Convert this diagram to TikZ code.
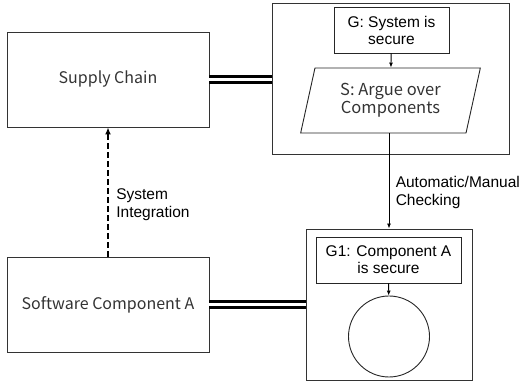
\documentclass[tikz,border=0pt]{standalone}
\usepackage{fontspec}
\setmainfont{Liberation Sans}
\newfontfamily\krfont{Noto Sans CJK KR}
\usetikzlibrary{calc,positioning,arrows.meta,shapes.geometric}

\begin{document}
\begin{tikzpicture}[x=1pt,y=-1pt,
    box/.style={rectangle,draw=black!80,line width=0.9pt,font=\krfont\fontsize{16}{18}\selectfont,text=black!80},
    frame/.style={rectangle,draw=black!80,line width=0.9pt},
    goalbox/.style={rectangle,draw=black!85,line width=0.9pt,align=center,font=\fontsize{15.5}{17}\selectfont,inner sep=1pt},
    link/.style={draw=black,line width=3pt,double=white,double distance=3pt},
    tip/.style={-{Latex[length=5pt,width=4pt]},line width=0.9pt},
    lbl/.style={align=left,font=\fontsize{15.5}{18}\selectfont}]

  \useasboundingbox (0,0) rectangle (523,387);

  %% left column
  \node (supply) [box,minimum width=202pt,minimum height=95pt] at (108,79.5) {Supply Chain};
  \node (software) [box,minimum width=202pt,minimum height=95pt] at (108,304.5) {Software Component A};

  %% system argument
  \node (topframe) [frame,minimum width=237pt,minimum height=151pt] at (390.5,78.5) {};
  \node (goal) [goalbox,minimum width=115pt,minimum height=46pt] at (391.5,30) {G: System is\\secure};
  \node (strategy) [trapezium,trapezium stretches=true,trapezium left angle=76,trapezium right angle=104,
                    draw=black!85,line width=0.9pt,minimum width=180pt,minimum height=65pt,
                    align=center,font=\krfont\fontsize{16.5}{18}\selectfont,text=black!80] at (390.5,100.5) {S: Argue over\\Components};

  %% component argument
  \node (botframe) [frame,minimum width=166pt,minimum height=151pt] at (389,304.5) {};
  \node (goal1) [goalbox,minimum width=145pt,minimum height=46pt] at (388.5,260) {G1: Component A\\is secure};
  \node (solution) [circle,draw=black!85,line width=0.9pt,minimum size=81pt] at (389,336.5) {};

  \draw[tip] (goal) -- (strategy);
  \draw[tip] (goal1) -- (solution);
  \draw[tip] (strategy.south -| botframe.north) -- node[lbl,pos=0.62,right,xshift=3pt] {Automatic/Manual\\Checking} (botframe.north);

  \draw[-{Latex[length=7pt,width=6pt]},line width=2pt,dash pattern=on 6pt off 3pt]
       (software) -- node[lbl,pos=0.4,right,xshift=4pt] {System\\Integration} (supply);

  \draw[link] (supply) -- (supply -| topframe.west);
  \draw[link] (software) -- (software -| botframe.west);

\end{tikzpicture}
\end{document}
